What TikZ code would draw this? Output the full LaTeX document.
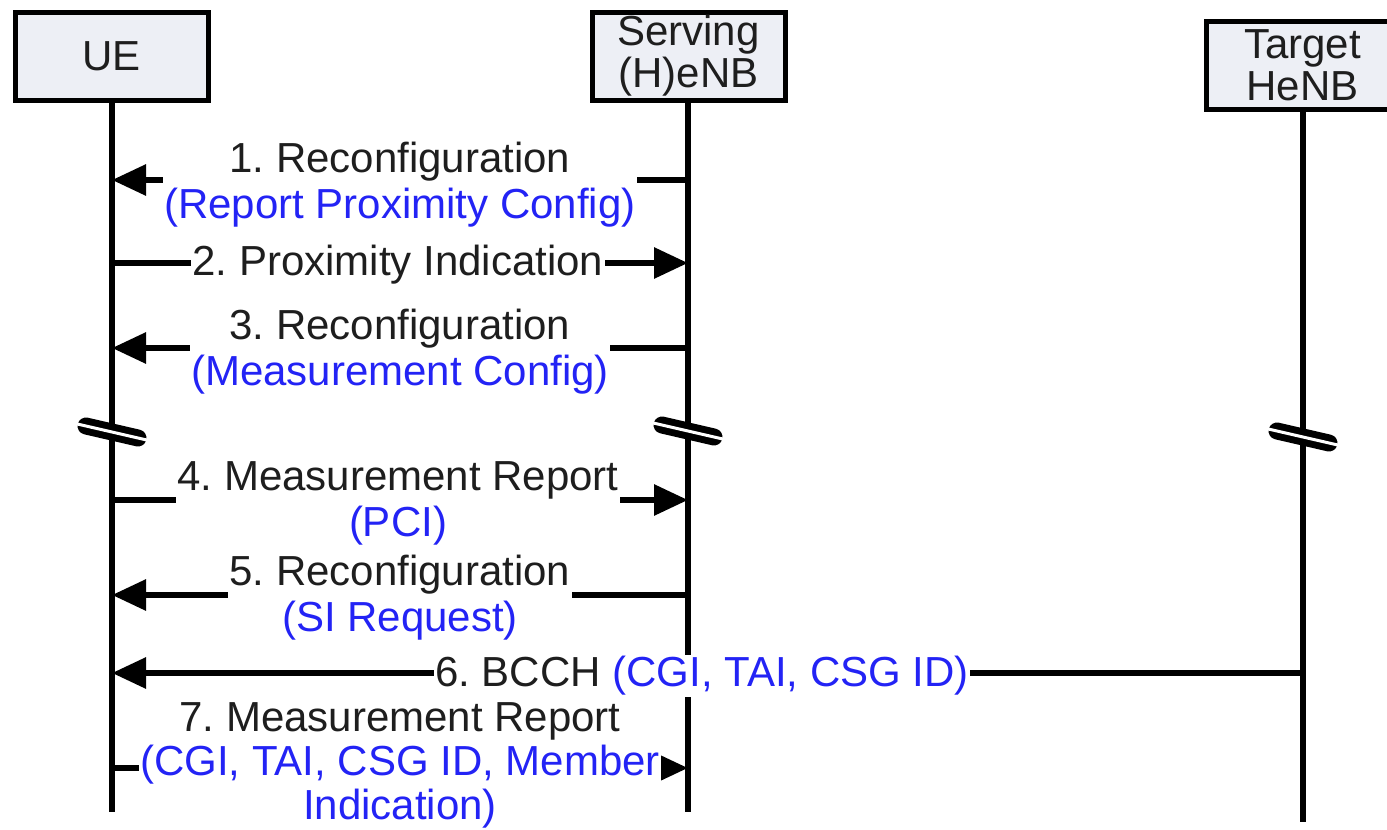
\documentclass[tikz,border=0pt]{standalone}
\usepackage{fontspec}
\setmainfont{Liberation Sans}
\usetikzlibrary{arrows.meta}
\definecolor{boxfill}{RGB}{237,239,245}
\definecolor{msgblue}{RGB}{35,35,245}
\definecolor{txt}{RGB}{30,30,30}
\frenchspacing
\begin{document}
\frenchspacing
\begin{tikzpicture}[x=1pt,y=-1pt,
  font=\fontsize{42}{46}\selectfont\frenchspacing,
  actor/.style={draw=black, line width=5pt, fill=boxfill, minimum width=193pt,
    minimum height=88pt, align=center, inner sep=0pt, text=txt,
    font=\fontsize{42}{42}\selectfont},
  life/.style={line width=6pt},
  msg/.style={line width=6pt, -{Triangle[length=34pt,width=30pt]}},
  lbl/.style={fill=white, inner sep=1.5pt, align=center, text=txt},
  brkblack/.style={line width=17pt, line cap=round},
  brkwhite/.style={line width=3pt, white}]
\useasboundingbox (0,0) rectangle (1387,830);
% lifeline ends
\coordinate (ueend) at (112,812);
\coordinate (snend) at (688,812);
\coordinate (tgend) at (1303,822);
\draw[life] (112,100) -- (ueend);
\draw[life] (688,100) -- (snend);
\draw[life] (1303,108) -- (tgend);
% actors
\node[actor] (ue) at (111.5,56) {UE};
\node[actor] (sn) at (688.5,56) {Serving\\(H)eNB};
\node[actor] (tg) at (1302.5,65) {Target\\HeNB};
% breaks
\foreach \n/\x/\y in {bu/112/432, bs/688/431, bt/1303/437}{
  \coordinate (\n) at (\x,\y);
  \draw[brkblack] ([shift={(-26,-6)}]\n) -- ([shift={(26,6)}]\n);
  \draw[brkwhite] ([shift={(-36,-8.3)}]\n) -- ([shift={(36,8.3)}]\n);
}
% message coordinates
\coordinate (u1) at (112,180); \coordinate (s1) at (688,180);
\coordinate (u2) at (112,263); \coordinate (s2) at (688,263);
\coordinate (u3) at (112,348); \coordinate (s3) at (688,348);
\coordinate (u4) at (112,500); \coordinate (s4) at (688,500);
\coordinate (u5) at (112,595); \coordinate (s5) at (688,595);
\coordinate (u6) at (112,673); \coordinate (t6) at (1303,673);
\coordinate (u7) at (112,768); \coordinate (s7) at (688,768);
\draw[msg] (s1) -- (u1);
\draw[msg] (u2) -- (s2);
\draw[msg] (s3) -- (u3);
\draw[msg] (u4) -- (s4);
\draw[msg] (s5) -- (u5);
\draw[msg] (t6) -- (u6);
\draw[msg] (u7) -- (s7);
% labels
\node[lbl] (l1) at (400,185) {1. Reconfiguration\\\textcolor{msgblue}{(Report Proximity Config)}};
\node[lbl] (l2) at (398,265) {2. Proximity Indication};
\node[lbl] (l3) at (400,352) {3. Reconfiguration\\\textcolor{msgblue}{(Measurement Config)}};
\node[lbl] (l4) at (398,503) {4. Measurement Report\\\textcolor{msgblue}{(PCI)}};
\node[lbl] (l5) at (400,598) {5. Reconfiguration\\\textcolor{msgblue}{(SI Request)}};
\node[lbl] (l6) at (702,676) {6. BCCH \textcolor{msgblue}{(CGI, TAI, CSG ID)}};
\node[lbl, font=\fontsize{42}{44}\selectfont\frenchspacing] (l7) at (400,765) {7. Measurement Report\\\textcolor{msgblue}{(CGI, TAI, CSG ID, Member}\\\textcolor{msgblue}{Indication)}};
\end{tikzpicture}
\end{document}
